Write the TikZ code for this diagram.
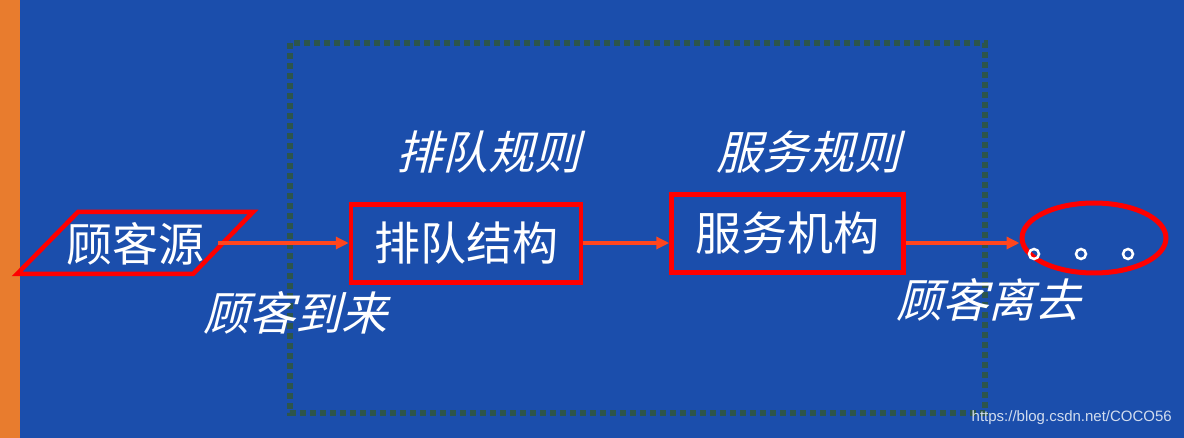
\documentclass[tikz,border=0pt]{standalone}
\usepackage{fontspec}
\newfontfamily\cjk{Noto Sans CJK SC}
\newfontfamily\cjkit[FakeSlant=0.25]{Noto Sans CJK SC}
\setmainfont{Liberation Sans}
\usetikzlibrary{arrows.meta,shapes.geometric}
\definecolor{bgblue}{RGB}{27,78,172}
\definecolor{barorange}{RGB}{232,124,46}
\definecolor{boxred}{RGB}{255,0,0}
\definecolor{arrred}{RGB}{255,70,30}
\definecolor{dotgreen}{RGB}{45,85,75}
\tikzset{
  boxnode/.style={draw=boxred,line width=4.5pt,text=white,font=\cjk\fontsize{46}{50}\selectfont,inner sep=0pt},
  labelnode/.style={text=white,font=\cjkit\fontsize{46}{50}\selectfont,inner sep=0pt},
  flow/.style={draw=arrred,line width=3.5pt,-{Triangle[length=13pt,width=12pt]}},
  dotbox/.style={draw=dotgreen,line width=6pt,dash pattern=on 6pt off 4pt},
  smalldot/.style={circle,draw=white,line width=2.5pt,minimum size=10pt,inner sep=0pt}
}
\begin{document}
\begin{tikzpicture}[x=1pt,y=-1pt]
\useasboundingbox (0,0) rectangle (1184,438);
\fill[bgblue] (0,0) rectangle (1184,438);
\fill[barorange] (0,0) rectangle (20,438);
% dotted region
\draw[dotbox] (290,43) rectangle (985,413);
% source parallelogram
\coordinate (p1) at (17,274);
\coordinate (p2) at (193,274);
\coordinate (p3) at (253,212);
\coordinate (p4) at (78,212);
\draw[draw=boxred,line width=4.5pt,line join=miter] (p1) -- (p2) -- (p3) -- (p4) -- cycle;
\node[text=white,font=\cjk\fontsize{46}{50}\selectfont,inner sep=0pt] (src) at (135,244) {顾客源};
\coordinate (srcout) at (218,243);
% boxes
\node[boxnode,minimum width=230pt,minimum height=78pt] (q) at (466,243.5) {排队结构};
\node[boxnode,minimum width=232pt,minimum height=78pt] (s) at (787.5,233.5) {服务机构};
% ellipse
\node[ellipse,draw=boxred,line width=5pt,minimum width=144pt,minimum height=70pt] (out) at (1094,238) {};
\node[smalldot] (d1) at (1034,254) {};
\node[smalldot] (d2) at (1081,254) {};
\node[smalldot] (d3) at (1128,254) {};
% arrows
\draw[flow] (srcout) -- (q.west |- srcout);
\draw[flow] (q.east |- 0,243) -- (s.west |- 0,243);
\draw[flow] (s.east |- 0,243) -- (out.west |- 0,243);
% labels
\node[labelnode] (l1) at (488,152) {排队规则};
\node[labelnode] (l2) at (808,152) {服务规则};
\node[labelnode] (l3) at (295,313) {顾客到来};
\node[labelnode] (l4) at (988,300) {顾客离去};
% watermark
\node[text=white!80!bgblue,font=\fontsize{15}{17}\selectfont,inner sep=0pt,anchor=east] (wm) at (1172,418) {https://blog.csdn.net/COCO56};
\end{tikzpicture}
\end{document}
